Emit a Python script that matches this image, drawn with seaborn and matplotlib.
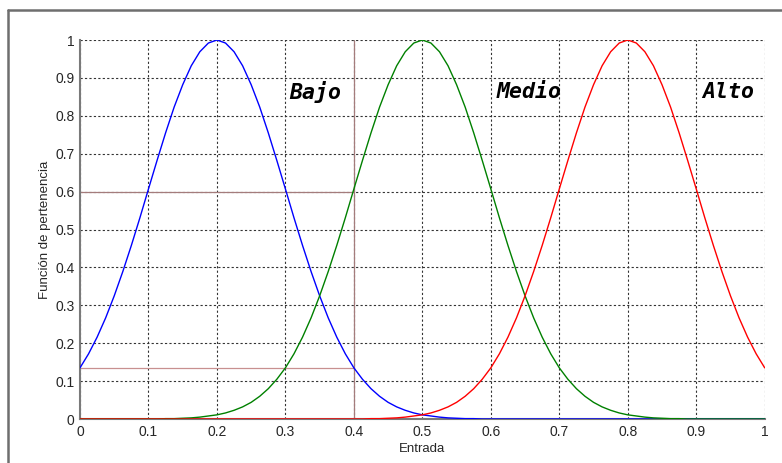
import numpy as np
import pandas as pd
import seaborn as sns
import matplotlib
matplotlib.use("Agg")
import matplotlib.pyplot as plt
from matplotlib.lines import Line2D

# entrada en pasos de 0.0125
x_entrada = [round(i * 0.0125, 4) for i in range(81)]

bajo = [0.135, 0.172, 0.216, 0.267, 0.325, 0.389, 0.458, 0.531, 0.607, 0.682,
        0.755, 0.823, 0.882, 0.932, 0.969, 0.992, 1.000,
        0.992, 0.969, 0.932, 0.882, 0.823, 0.755, 0.682, 0.607, 0.531, 0.458,
        0.389, 0.325, 0.267, 0.216, 0.172, 0.135, 0.105, 0.080, 0.060, 0.044,
        0.032, 0.023, 0.016, 0.011, 0.008, 0.005, 0.003, 0.002, 0.001, 0.001,
        0, 0, 0, 0, 0, 0, 0, 0, 0, 0, 0, 0, 0, 0, 0, 0, 0,
        0, 0, 0, 0, 0, 0, 0, 0, 0, 0, 0, 0, 0, 0, 0, 0, 0]

medio = [0, 0, 0, 0, 0, 0, 0, 0, 0, 0,
         0.001, 0.001, 0.002, 0.003, 0.005, 0.008, 0.011, 0.016, 0.023, 0.032,
         0.044, 0.060, 0.080, 0.105, 0.135, 0.172, 0.216, 0.267, 0.325, 0.389,
         0.458, 0.531, 0.607, 0.682, 0.755, 0.823, 0.882, 0.932, 0.969, 0.992,
         1.000,
         0.992, 0.969, 0.932, 0.882, 0.823, 0.755, 0.682, 0.607, 0.531, 0.458,
         0.389, 0.325, 0.267, 0.216, 0.172, 0.135, 0.105, 0.080, 0.060, 0.044,
         0.032, 0.023, 0.016, 0.011, 0.008, 0.005, 0.003, 0.002, 0.001, 0.001,
         0, 0, 0, 0, 0, 0, 0, 0, 0, 0]

alto = [0, 0, 0, 0, 0, 0, 0, 0, 0, 0, 0, 0, 0, 0, 0, 0, 0,
        0, 0, 0, 0, 0, 0, 0, 0, 0, 0, 0, 0, 0, 0, 0, 0, 0,
        0.001, 0.001, 0.002, 0.003, 0.005, 0.008, 0.011, 0.016, 0.023, 0.032,
        0.044, 0.060, 0.080, 0.105, 0.135, 0.172, 0.216, 0.267, 0.325, 0.389,
        0.458, 0.531, 0.607, 0.682, 0.755, 0.823, 0.882, 0.932, 0.969, 0.992,
        1.000,
        0.992, 0.969, 0.932, 0.882, 0.823, 0.755, 0.682, 0.607, 0.531, 0.458,
        0.389, 0.325, 0.267, 0.216, 0.172, 0.135]

# valor de entrada y grados de pertenencia marcados
entrada_sel = 0.4
mu_bajo = 0.135
mu_medio = 0.6

etiquetas = ["Bajo", "Medio", "Alto"]
etiqueta_x = [0.306, 0.609, 0.908]
etiqueta_y = 0.863

ticks = [0, 0.1, 0.2, 0.3, 0.4, 0.5, 0.6, 0.7, 0.8, 0.9, 1]
tick_labels = ["0", "0.1", "0.2", "0.3", "0.4", "0.5", "0.6", "0.7", "0.8", "0.9", "1"]

sns.set_style("white")
plt.rcParams["font.family"] = ["Liberation Sans", "DejaVu Sans"]

fig = plt.figure(figsize=(7.82, 4.63), dpi=100)
ax = fig.add_axes([0.1023, 0.095, 0.8756, 0.8186])

# lineas de referencia
ref_col = "#a47c7c"
ax.hlines(mu_medio, 0, entrada_sel, color=ref_col, lw=0.9, zorder=2)
ax.hlines(mu_bajo, 0, entrada_sel, color="#c89090", lw=0.9, zorder=2)
ax.vlines(entrada_sel, 0, 1, color=ref_col, lw=0.9, zorder=2)

df = pd.DataFrame({"x": x_entrada, "Bajo": bajo, "Medio": medio, "Alto": alto})
sns.lineplot(data=df, x="x", y="Bajo", color="#0000ff", lw=1.0, ax=ax, zorder=3)
sns.lineplot(data=df, x="x", y="Medio", color="#008000", lw=1.0, ax=ax, zorder=4)
sns.lineplot(data=df, x="x", y="Alto", color="#ff0000", lw=1.0, ax=ax, zorder=5)

for t, tx in zip(etiquetas, etiqueta_x):
    ax.text(tx, etiqueta_y, t, ha="left", va="center", fontsize=15.5,
            family="DejaVu Sans Mono", fontweight="bold", fontstyle="italic",
            color="black", zorder=6)

ax.set_xlim(0, 1)
ax.set_ylim(0, 1)
ax.set_xticks(ticks)
ax.set_xticklabels(tick_labels)
ax.set_yticks(ticks)
ax.set_yticklabels(tick_labels)
ax.tick_params(axis="both", length=0, labelsize=10, pad=4)
ax.grid(True, linestyle=(0, (2, 2)), color="#333333", lw=0.8)
ax.set_axisbelow(True)

for s in ["top", "right"]:
    ax.spines[s].set_visible(False)
for s in ["left", "bottom"]:
    ax.spines[s].set_color("#7a7a7a")
    ax.spines[s].set_linewidth(1.5)

ax.set_xlabel("Entrada", fontsize=9.5, labelpad=3)
ax.set_ylabel("Función de pertenencia", fontsize=9.5, labelpad=3)

# marco de la ventana
fig.add_artist(Line2D([0.0105, 1.0], [0.978, 0.978], transform=fig.transFigure,
                      color="#6e6e6e", lw=1.8))
fig.add_artist(Line2D([0.0105, 0.0105], [0.0, 0.978], transform=fig.transFigure,
                      color="#6e6e6e", lw=1.8))

fig.savefig("out.png", dpi=100)
